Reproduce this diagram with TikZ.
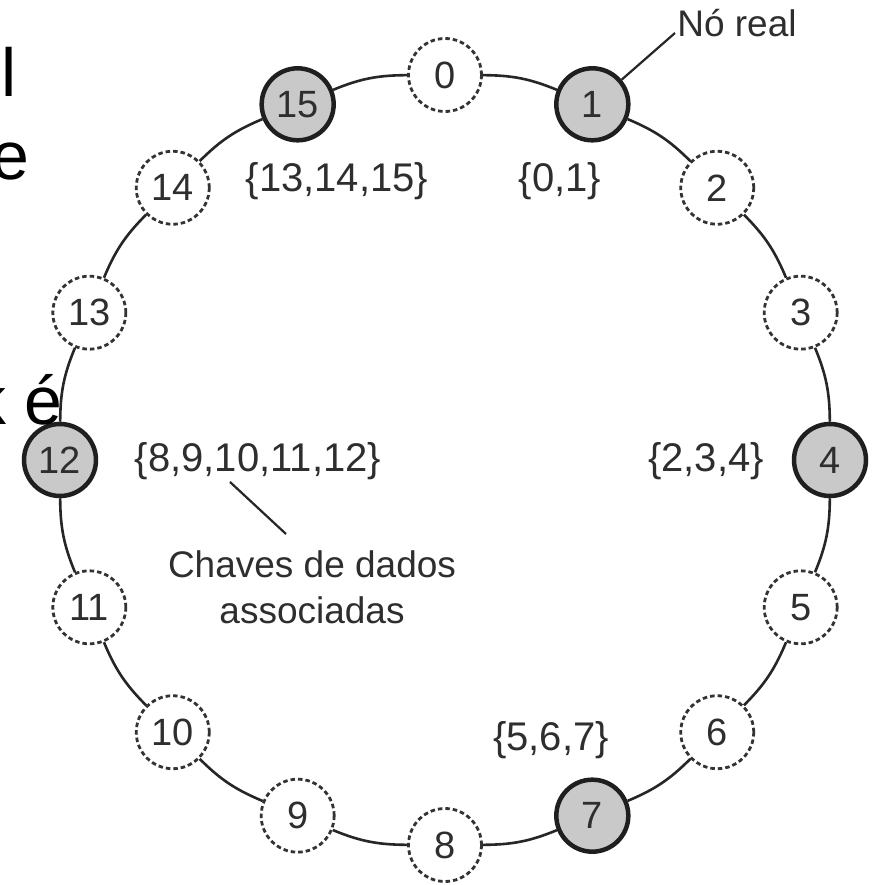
\documentclass[tikz,border=0pt]{standalone}
\usepackage{fontspec}
\setmainfont{Liberation Sans}
\begin{document}
\begin{tikzpicture}[x=1pt,y=1pt,
  every node/.style={font=\fontsize{37}{44}\selectfont, text=black!82},
  realnode/.style={circle, draw=black!88, line width=4.5pt, fill=black!21, minimum size=72pt, inner sep=0pt, font=\fontsize{38}{44}\selectfont},
  virtnode/.style={circle, draw=black!80, line width=2.8pt, dash pattern=on 4.5pt off 3pt, fill=white, minimum size=73pt, inner sep=0pt, font=\fontsize{38}{44}\selectfont},
  ringline/.style={draw=black!85, line width=2.6pt},
  pointer/.style={draw=black!85, line width=2.2pt},
  settext/.style={anchor=base, font=\fontsize{40}{46}\selectfont},
  slidetext/.style={font=\fontsize{68}{80}\selectfont, text=black, anchor=base east, inner sep=0pt}
]
\useasboundingbox (-445,-425) rectangle (430,460);
\fill[white] (-445,-425) rectangle (430,460);

\foreach \k in {0,...,15} {
  \coordinate (p\k) at ({90-22.5*\k}:385);
}
% nodes (named, used for connectors)
\foreach \k in {0,2,3,5,6,8,9,10,11,13,14} {
  \node[virtnode] (n\k) at (p\k) {\k};
}
\foreach \k in {1,4,7,12,15} {
  \node[realnode] (n\k) at (p\k) {\k};
}
% ring connectors
\foreach \k [evaluate=\k as \nx using {int(mod(\k+1,16))}] in {0,...,15} {
  \draw[ringline] (n\k) to[bend left=11] (n\nx);
}

% key sets
\node[settext] (s15) at (-108,268) {\{13,14,15\}};
\node[settext] (s1) at (115,268) {\{0,1\}};
\node[settext] (s4) at (261,-12) {\{2,3,4\}};
\node[settext] (s7) at (106,-290) {\{5,6,7\}};
\node[settext] (s12) at (-187,-12) {\{8,9,10,11,12\}};

% annotations
\node[anchor=base, inner sep=0pt] (noreal) at (292,423) {Nó real};
\coordinate (nrend) at (230,427);
\draw[pointer] (n1.40) -- (nrend);

\node[anchor=base, align=center, inner sep=0pt, font=\fontsize{37}{46}\selectfont] (chaves) at (-133,-163) {Chaves de dados\\associadas};
\coordinate (chstart) at (-215,-22);
\coordinate (chend) at (-159,-74);
\draw[pointer] (chstart) -- (chend);

% fragments of slide text
\node[slidetext] (fl) at (-428,363) {l};
\node[slidetext] (fe) at (-415,280) {e};
\node[slidetext] (fk) at (-438,35) {k};
\node[slidetext] (fee) at (-382,35) {é};
\end{tikzpicture}
\end{document}
